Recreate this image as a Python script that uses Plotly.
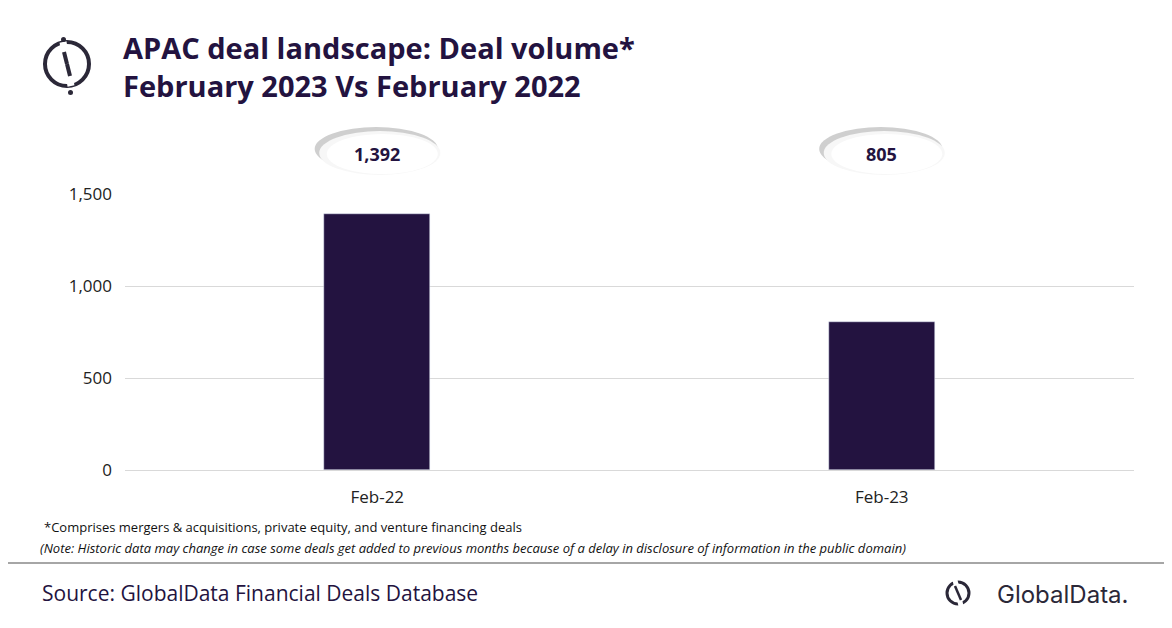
import plotly.graph_objects as go

# data
periods = ['Feb-22', 'Feb-23']
deal_volume = [1392, 805]
y_ticks = [0, 500, 1000, 1500]

dark = '#231340'
logo = '#2b2838'
font = 'Open Sans, Noto Sans, sans-serif'

# plot area in screen pixels (page has an 8px body margin)
PL, PR, PT, PB = 125, 1134, 194, 470


def px(x):
    return (x - PL) / (PR - PL)


def py(y):
    return (PB - y) / (PB - PT)


def note(x, y, text, size, color='#111', anchor='left', family=font):
    fig.add_annotation(xref='paper', yref='paper', x=px(x), y=py(y), xanchor=anchor,
                       yanchor='middle', showarrow=False, text=text,
                       font=dict(size=size, color=color, family=family))


fig = go.Figure()
fig.add_trace(go.Bar(x=periods, y=deal_volume, marker_color=dark, width=0.21))

# bubble labels above each bar
for i, v in enumerate(deal_volume):
    fig.add_shape(type='circle', xref='x', yref='paper', x0=i - 0.124, x1=i + 0.12,
                  y0=py(171), y1=py(127), fillcolor='#cfcfcf', line_width=0, layer='above')
    fig.add_shape(type='circle', xref='x', yref='paper', x0=i - 0.115, x1=i + 0.125,
                  y0=py(175), y1=py(131), fillcolor='#f7f7f7', line_width=0, layer='above')
    fig.add_shape(type='circle', xref='x', yref='paper', x0=i - 0.1, x1=i + 0.12,
                  y0=py(174), y1=py(134), fillcolor='white', line_width=0, layer='above')
    fig.add_annotation(x=periods[i], y=py(154), yref='paper', yanchor='middle',
                       text='<b>{:,}</b>'.format(v), showarrow=False,
                       font=dict(size=18, color=dark, family=font))

fig.update_layout(
    width=1172, height=628,
    margin=dict(l=PL - 8, r=1172 - PR + 8, t=PT - 8, b=628 - PB + 8),
    plot_bgcolor='white', paper_bgcolor='white',
    showlegend=False, bargap=0,
    font=dict(family=font, color='#222'),
    xaxis=dict(showline=True, linecolor='#d9d9d9', ticks='outside', ticklen=0,
               tickfont=dict(size=17, color='#222'), showgrid=False, ticklabelstandoff=12),
    yaxis=dict(range=[0, 1500], tickvals=y_ticks, tickformat=',', gridcolor='#d9d9d9',
               tickfont=dict(size=17, color='#222'), zeroline=False, ticklabelstandoff=12),
)

# title
fig.add_annotation(xref='paper', yref='paper', x=px(121), y=py(67), xanchor='left', yanchor='middle',
                   align='left', showarrow=False,
                   text='<b>APAC deal landscape: Deal volume*<br>February 2023 Vs February 2022</b>',
                   font=dict(size=29, color=dark, family=font))

# top-left logo
fig.add_shape(type='circle', xref='paper', yref='paper', x0=px(45), x1=px(89),
              y0=py(86), y1=py(42), line=dict(color=logo, width=4))
fig.add_shape(type='line', xref='paper', yref='paper', x0=px(63), x1=px(71),
              y0=py(42), y1=py(86), line=dict(color='white', width=7))
fig.add_shape(type='line', xref='paper', yref='paper', x0=px(64), x1=px(67),
              y0=py(52), y1=py(64), line=dict(color=logo, width=4))
fig.add_shape(type='line', xref='paper', yref='paper', x0=px(67), x1=px(70),
              y0=py(64), y1=py(76), line=dict(color=logo, width=4))
fig.add_shape(type='circle', xref='paper', yref='paper', x0=px(61), x1=px(66),
              y0=py(42), y1=py(37), fillcolor=logo, line_width=0)
fig.add_shape(type='circle', xref='paper', yref='paper', x0=px(68), x1=px(73),
              y0=py(95), y1=py(90), fillcolor=logo, line_width=0)

# footnotes
note(42, 527, '*Comprises mergers &amp; acquisitions, private equity, and venture financing deals', 13)
note(38, 548, '<i>(Note: Historic data may change in case some deals get added to previous months '
              'because of a delay in disclosure of information in the public domain)</i>', 13)
fig.add_shape(type='line', xref='paper', yref='paper', x0=px(0), x1=px(1172), y0=py(563), y1=py(563),
              line=dict(color='#a6a6a6', width=2))
note(40, 593, 'Source: GlobalData Financial Deals Database', 21, color=dark)

# bottom-right logo
note(1130, 594, 'GlobalData.', 24, color=logo, anchor='right', family='Inter, sans-serif')
fig.add_shape(type='circle', xref='paper', yref='paper', x0=px(947), x1=px(969),
              y0=py(604), y1=py(582), line=dict(color=logo, width=3))
fig.add_shape(type='line', xref='paper', yref='paper', x0=px(955), x1=px(961),
              y0=py(580), y1=py(606), line=dict(color='white', width=5))
fig.add_shape(type='line', xref='paper', yref='paper', x0=px(955), x1=px(961),
              y0=py(586), y1=py(600), line=dict(color=logo, width=2.5))

fig.write_html('out.html')
